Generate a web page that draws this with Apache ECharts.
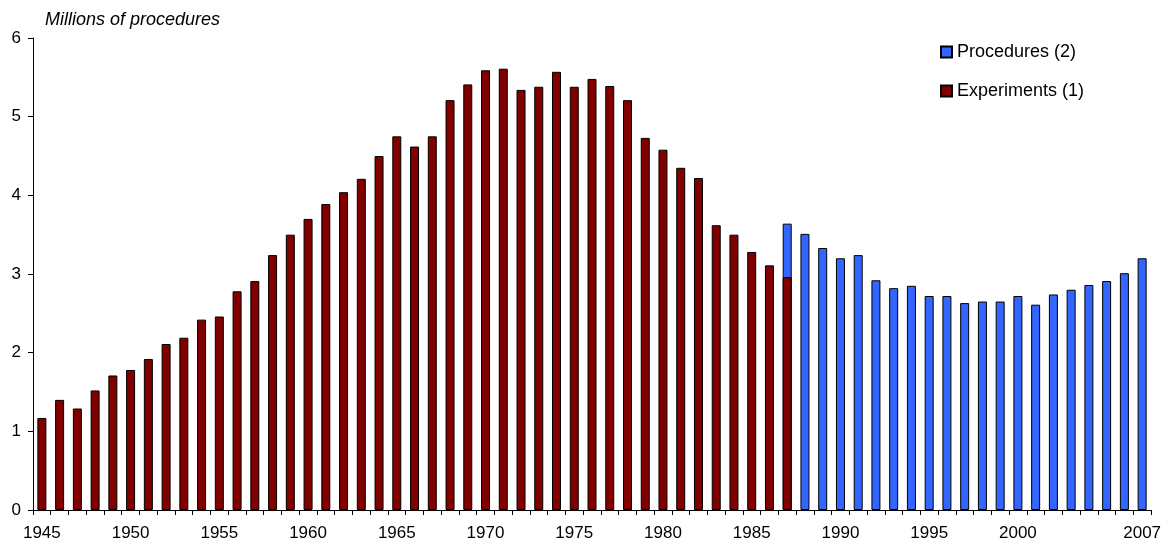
<!DOCTYPE html>
<html>
<head>
<meta charset="utf-8">
<script src="https://cdn.jsdelivr.net/npm/echarts@6/dist/echarts.min.js"></script>
<style>
  html, body { margin: 0; padding: 0; background: #fff; }
  #main { width: 1168px; height: 544px; }
</style>
</head>
<body>
<div id="main"></div>
<script>
// years on the category axis
const years = [];
for (let y = 1945; y <= 2007; y++) years.push(String(y));

// experiments 1945-1987 (millions)
const experiments = [
  1.17, 1.40, 1.29, 1.52, 1.71, 1.78, 1.92, 2.11, 2.19, 2.42,
  2.46, 2.78, 2.91, 3.24, 3.50, 3.70, 3.89, 4.04, 4.21, 4.50,
  4.75, 4.62, 4.75, 5.21, 5.41, 5.59, 5.61, 5.34, 5.38, 5.57,
  5.38, 5.48, 5.39, 5.21, 4.73, 4.58, 4.35, 4.22, 3.62, 3.50,
  3.28, 3.11, 2.96
];

// procedures 1987-2007 (millions)
const procedures = [
  3.64, 3.51, 3.33, 3.20, 3.24, 2.92, 2.82, 2.85, 2.72, 2.72,
  2.63, 2.65, 2.65, 2.72, 2.61, 2.74, 2.80, 2.86, 2.91, 3.01,
  3.20
];

const yTicks = [0, 1, 2, 3, 4, 5, 6];

// pad the series out to the full year range
const procStart = years.indexOf("1987");
const expData = years.map((y, i) => (i < experiments.length ? experiments[i] : null));
const procData = years.map((y, i) => (i >= procStart ? procedures[i - procStart] : null));

const font = "Liberation Sans, Arial, sans-serif";
const myChart = echarts.init(document.getElementById("main"));

const option = {
  animation: false,
  title: {
    text: "Millions of procedures",
    left: 40,
    top: 6,
    textStyle: { fontFamily: font, fontSize: 18, fontStyle: "italic", fontWeight: "normal", color: "#000" }
  },
  legend: {
    orient: "vertical",
    left: 935,
    top: 38,
    itemGap: 21,
    itemWidth: 11,
    itemHeight: 11,
    icon: "rect",
    data: ["Procedures (2)", "Experiments (1)"],
    textStyle: { fontFamily: font, fontSize: 18, color: "#000" }
  },
  grid: { left: 33, right: 17, top: 38, bottom: 34 },
  xAxis: {
    type: "category",
    data: years,
    boundaryGap: true,
    axisLine: { lineStyle: { color: "#000", width: 1 } },
    axisTick: { show: true, interval: 0, length: 5, lineStyle: { color: "#000" } },
    axisLabel: {
      interval: (i) => (i % 5 === 0 && i <= 55) || i === years.length - 1,
      fontFamily: font,
      fontSize: 17,
      color: "#000",
      margin: 15
    }
  },
  yAxis: {
    type: "value",
    min: yTicks[0],
    max: yTicks[yTicks.length - 1],
    interval: 1,
    splitLine: { show: false },
    axisLine: { show: true, lineStyle: { color: "#000", width: 1 } },
    axisTick: { show: true, length: 5, lineStyle: { color: "#000" } },
    axisLabel: { fontFamily: font, fontSize: 17, color: "#000", margin: 12 }
  },
  series: [
    {
      name: "Procedures (2)",
      type: "bar",
      data: procData,
      barWidth: 9,
      barGap: "-100%",
      itemStyle: { color: "#3366FF", borderColor: "#000", borderWidth: 1 }
    },
    {
      name: "Experiments (1)",
      type: "bar",
      data: expData,
      barWidth: 9,
      barGap: "-100%",
      itemStyle: { color: "#800000", borderColor: "#000", borderWidth: 1 }
    }
  ]
};

myChart.setOption(option);
</script>
</body>
</html>
